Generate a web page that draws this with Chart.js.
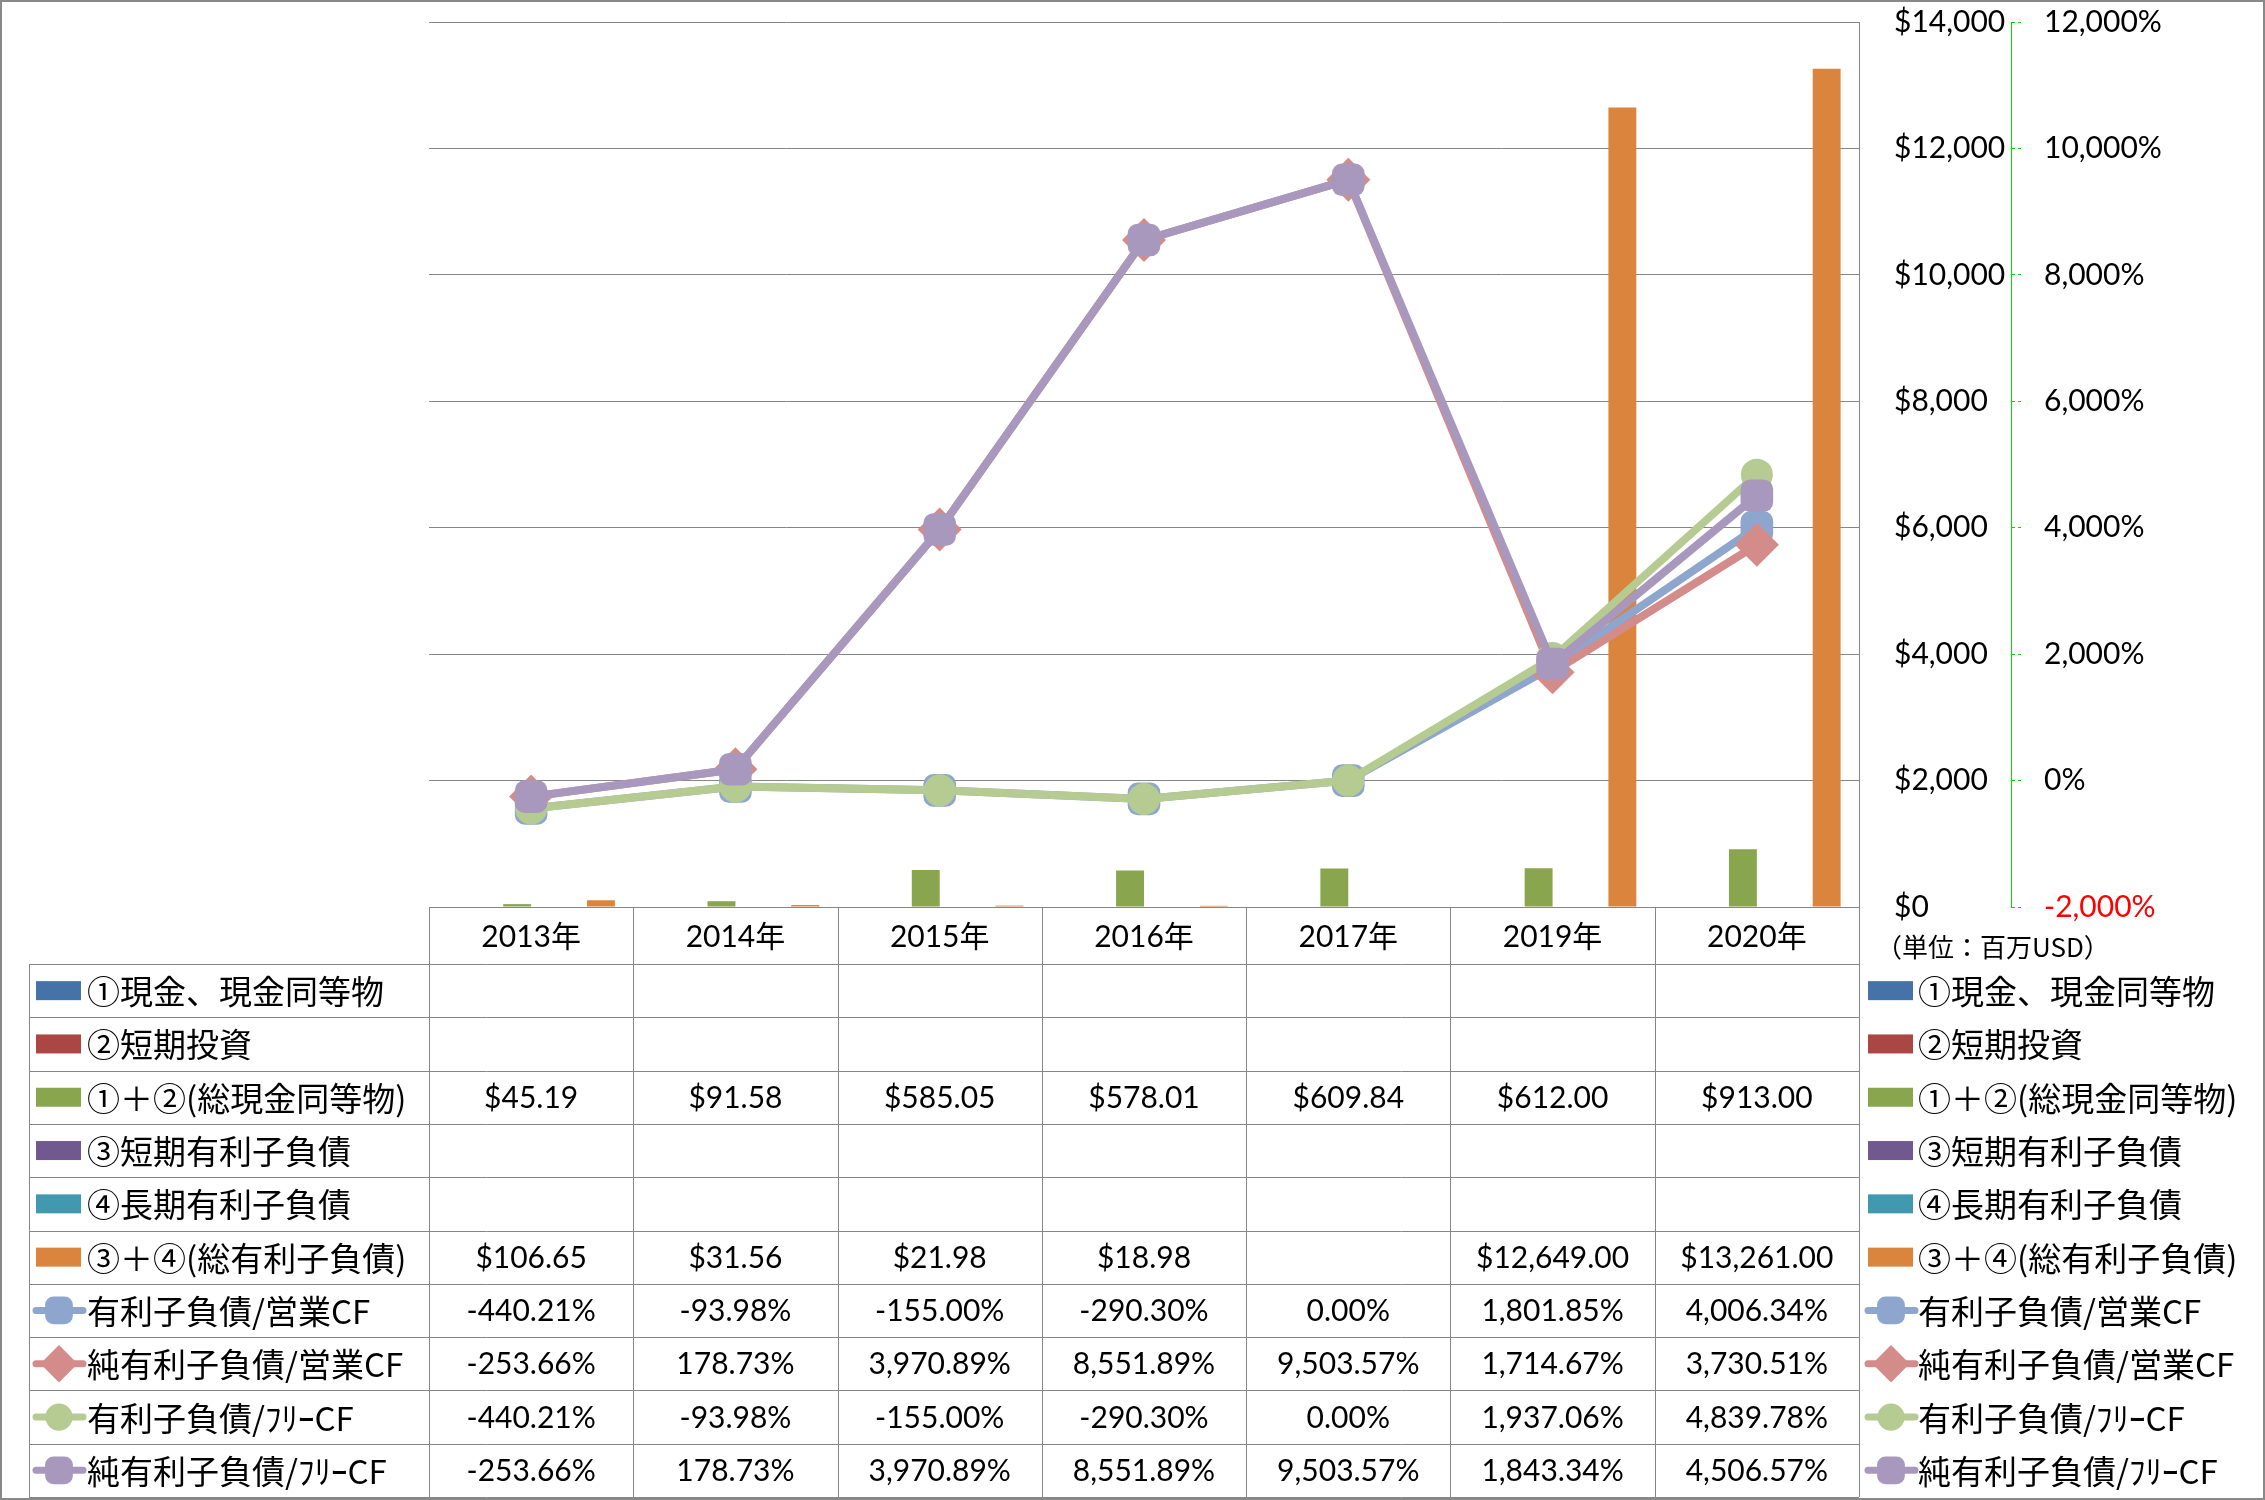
<!DOCTYPE html>
<html lang="ja">
<head>
<meta charset="utf-8">
<title>総現金同等物と有利子負債</title>
<script src="https://cdn.jsdelivr.net/npm/chart.js@4.4.1/dist/chart.umd.min.js"></script>
<style>
  html, body { margin: 0; padding: 0; background: #fff; }
  #wrap { width: 2265px; height: 1500px; }
</style>
</head>
<body>
<div id="wrap"><canvas id="debtChart" width="2265" height="1500"></canvas></div>
<script>
const years = ["2013年", "2014年", "2015年", "2016年", "2017年", "2019年", "2020年"];

// 棒グラフ（百万USD）
const cash = [null, null, null, null, null, null, null];
const shortInvest = [null, null, null, null, null, null, null];
const totalCash = [45.19, 91.58, 585.05, 578.01, 609.84, 612.00, 913.00];
const shortDebt = [null, null, null, null, null, null, null];
const longDebt = [null, null, null, null, null, null, null];
const totalDebt = [106.65, 31.56, 21.98, 18.98, null, 12649.00, 13261.00];

// 折れ線（%）
const debtOpCf = [-440.21, -93.98, -155.00, -290.30, 0.00, 1801.85, 4006.34];
const netDebtOpCf = [-253.66, 178.73, 3970.89, 8551.89, 9503.57, 1714.67, 3730.51];
const debtFreeCf = [-440.21, -93.98, -155.00, -290.30, 0.00, 1937.06, 4839.78];
const netDebtFreeCf = [-253.66, 178.73, 3970.89, 8551.89, 9503.57, 1843.34, 4506.57];

const barNames = ["①現金、現金同等物", "②短期投資", "①＋②(総現金同等物)", "③短期有利子負債", "④長期有利子負債", "③＋④(総有利子負債)"];
const lineNames = ["有利子負債/営業CF", "純有利子負債/営業CF", "有利子負債/ﾌﾘｰCF", "純有利子負債/ﾌﾘｰCF"];

const barColors = ["#4572A7", "#AA4643", "#89A54E", "#71588F", "#4198AF", "#DB843D"];
const lineColors = ["#8EA6CE", "#D38C8A", "#B5CB92", "#A898BD"];
const markerStyles = ["rectRounded", "rectRot", "circle", "rectRounded"];
const markerSizes = [19, 22, 16, 19];

const latin = "Lato, 'Noto Sans CJK JP', sans-serif";
const jp = "'Noto Sans CJK JP', sans-serif";
const gridGrey = "#868686";
const axisGreen = "#00DD00";

const barData = [cash, shortInvest, totalCash, shortDebt, longDebt, totalDebt];
const lineData = [debtOpCf, netDebtOpCf, debtFreeCf, netDebtFreeCf];

const fmt = v => v.toLocaleString("en-US", { minimumFractionDigits: 2, maximumFractionDigits: 2 });

const datasets = [];
barData.forEach((d, i) => {
  datasets.push({
    type: "bar",
    label: barNames[i],
    data: d,
    yAxisID: "y",
    backgroundColor: barColors[i],
    categoryPercentage: 0.82,
    barPercentage: 1.0,
    order: 10 + i
  });
});
lineData.forEach((d, i) => {
  datasets.push({
    type: "line",
    label: lineNames[i],
    data: d,
    yAxisID: "y1",
    borderColor: lineColors[i],
    backgroundColor: lineColors[i],
    borderWidth: 8,
    borderJoinStyle: "round",
    tension: 0,
    pointStyle: markerStyles[i],
    pointRadius: markerSizes[i],
    pointBackgroundColor: lineColors[i],
    pointBorderColor: lineColors[i],
    pointBorderWidth: 0,
    order: 4 - i
  });
});

// 凡例の記号
function drawKey(ctx, kind, i, x, cy) {
  if (kind === "bar") {
    ctx.fillStyle = barColors[i];
    ctx.fillRect(x + 3, cy - 9.5, 45, 19);
    return;
  }
  ctx.save();
  ctx.strokeStyle = lineColors[i];
  ctx.lineWidth = 7;
  ctx.lineCap = "round";
  ctx.beginPath();
  ctx.moveTo(x + 3, cy);
  ctx.lineTo(x + 50, cy);
  ctx.stroke();
  ctx.fillStyle = lineColors[i];
  ctx.strokeStyle = lineColors[i];
  const opts = { pointStyle: markerStyles[i], radius: markerSizes[i] * 0.85, rotation: 0, borderWidth: 0 };
  if (Chart.helpers && Chart.helpers.drawPoint) {
    Chart.helpers.drawPoint(ctx, opts, x + 26, cy);
  } else {
    ctx.fillRect(x + 12, cy - 14, 28, 28);
  }
  ctx.restore();
}

const tablePlugin = {
  id: "dataTable",
  afterDraw(chart) {
    const ctx = chart.ctx;
    const area = chart.chartArea;
    const n = years.length;
    const colW = area.width / n;
    const top = chart.scales.x.bottom;
    const bottom = 1497;
    const rows = [];
    barData.forEach((d, i) => rows.push({ kind: "bar", i, name: barNames[i], data: d, unit: "$" }));
    lineData.forEach((d, i) => rows.push({ kind: "line", i, name: lineNames[i], data: d, unit: "%" }));
    const rowH = (bottom - top) / rows.length;

    ctx.save();
    // 罫線
    ctx.strokeStyle = gridGrey;
    ctx.lineWidth = 1;
    ctx.beginPath();
    for (let k = 0; k <= rows.length; k++) {
      const y = Math.round(top + k * rowH) + 0.5;
      ctx.moveTo(29, y);
      ctx.lineTo(area.right, y);
    }
    ctx.moveTo(29.5, top);
    ctx.lineTo(29.5, bottom);
    for (let c = 0; c <= n; c++) {
      const x = Math.round(area.left + c * colW) + 0.5;
      ctx.moveTo(x, area.bottom);
      ctx.lineTo(x, bottom);
    }
    ctx.stroke();

    // 値と凡例
    rows.forEach((r, k) => {
      const cy = top + (k + 0.5) * rowH;
      drawKey(ctx, r.kind, r.i, 33, cy);
      drawKey(ctx, r.kind, r.i, 1865, cy);
      ctx.fillStyle = "#000";
      ctx.textBaseline = "middle";
      ctx.textAlign = "left";
      ctx.font = "33px " + jp;
      ctx.fillText(r.name, 87, cy + 1);
      ctx.fillText(r.name, 1918, cy + 1);
      ctx.font = "30px " + latin;
      ctx.textAlign = "center";
      r.data.forEach((v, c) => {
        if (v === null) return;
        const txt = r.unit === "$" ? "$" + fmt(v) : fmt(v) + "%";
        ctx.fillText(txt, area.left + (c + 0.5) * colW, cy + 1);
      });
    });

    ctx.textAlign = "left";
    ctx.font = "26px " + jp;
    ctx.fillText("（単位：百万USD）", 1876, 947);

    // 外枠
    ctx.strokeStyle = "#898989";
    ctx.lineWidth = 2;
    ctx.strokeRect(1, 1, 2263, 1498);
    ctx.restore();
  }
};

// 縦軸ラベルのはみ出し分を余白に数えない
const fixAxis = w => s => {
  s.width = w;
  s.paddingTop = 0;
  s.paddingBottom = 0;
};

new Chart(document.getElementById("debtChart").getContext("2d"), {
  type: "bar",
  data: { labels: years, datasets: datasets },
  plugins: [tablePlugin],
  options: {
    responsive: false,
    animation: false,
    events: [],
    layout: { padding: { left: 429, top: 20, right: 0, bottom: 536 } },
    plugins: {
      legend: { display: false },
      tooltip: { enabled: false }
    },
    scales: {
      x: {
        grid: { display: false },
        border: { display: true, color: gridGrey },
        ticks: { font: { family: latin, size: 30 }, color: "#000", padding: 4, maxRotation: 0, autoSkip: false },
        afterFit: s => { s.height = 57; }
      },
      y: {
        position: "right",
        min: 0,
        max: 14000,
        grid: { color: gridGrey, drawTicks: false },
        border: { display: true, color: gridGrey },
        ticks: {
          stepSize: 2000,
          padding: 35,
          color: "#000",
          font: { family: latin, size: 30 },
          callback: v => "$" + v.toLocaleString("en-US")
        },
        afterFit: fixAxis(152)
      },
      y1: {
        position: "right",
        min: -2000,
        max: 12000,
        grid: { drawOnChartArea: false, drawTicks: true, tickLength: 11, color: axisGreen, tickBorderDash: [3, 3] },
        border: { display: true, color: axisGreen, dash: [4, 3] },
        ticks: {
          stepSize: 2000,
          padding: 22,
          font: { family: latin, size: 30 },
          color: c => (c.tick && c.tick.value < 0 ? "#FF0000" : "#000"),
          callback: v => v.toLocaleString("en-US") + "%"
        },
        afterFit: fixAxis(254)
      }
    }
  }
});
</script>
</body>
</html>
